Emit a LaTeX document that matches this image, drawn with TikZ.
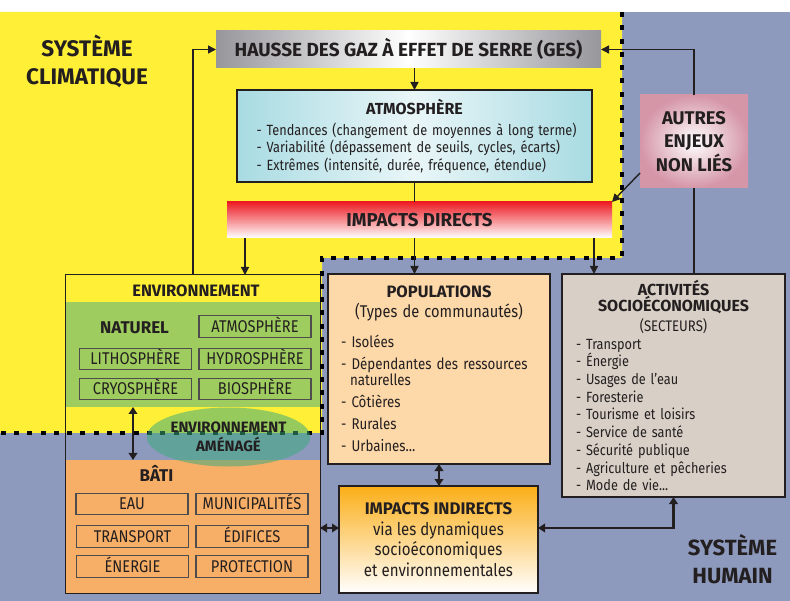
\documentclass[tikz,border=0pt]{standalone}
\usepackage{fontspec}
\setmainfont[FakeStretch=0.86,BoldFeatures={FakeStretch=1.0}]{Fira Sans}
\usetikzlibrary{arrows.meta,positioning,shapes.geometric}
\definecolor{climyellow}{RGB}{255,240,55}
\definecolor{humblue}{RGB}{142,154,189}
\definecolor{ink}{RGB}{35,31,32}
\definecolor{gesgray}{RGB}{150,150,155}
\definecolor{atmoblue}{RGB}{168,219,226}
\definecolor{impred}{RGB}{237,28,36}
\definecolor{impor}{RGB}{251,174,23}
\definecolor{autpink}{RGB}{213,150,168}
\definecolor{natgreen}{RGB}{159,204,94}
\definecolor{batorange}{RGB}{247,174,102}
\definecolor{poppeach}{RGB}{253,216,168}
\definecolor{actbeige}{RGB}{216,208,198}
\definecolor{amgreen}{RGB}{58,170,125}
\tikzstyle{plainbox}=[inner sep=0pt,outer sep=0pt,text=ink]
\tikzstyle{framebox}=[plainbox,draw=ink,line width=2pt]
\tikzstyle{lbl}=[plainbox,text depth=0pt]
\tikzstyle{subbox}=[plainbox,draw=ink!80,line width=1.1pt,minimum width=112pt,minimum height=21.5pt,text height=11.7pt,text depth=0pt,font=\fontsize{17}{18}\selectfont]
\tikzstyle{arr}=[-{Triangle[length=8pt,width=8pt]},line width=1.4pt,draw=ink]
\tikzstyle{darr}=[{Triangle[length=7pt,width=8.5pt]}-{Triangle[length=7pt,width=8.5pt]},line width=2.2pt,draw=ink]
\tikzstyle{lnk}=[line width=1.4pt,draw=ink]
\tikzstyle{sysdash}=[line width=4.5pt,dash pattern=on 5pt off 8.3pt,draw=black]
\newcommand\hd[1]{\fontsize{#1}{#1}\selectfont\bfseries}

\begin{document}
\begin{tikzpicture}[x=1pt,y=-1pt]
\useasboundingbox (0,0) rectangle (790,601);
\fill[humblue] (0,12) rectangle (790,601);
\fill[climyellow] (0,12) -- (622,12) -- (622,258) -- (322,258) -- (322,433) -- (0,433) -- cycle;
\node[plainbox,fill=natgreen,minimum width=255pt,minimum height=105pt] (nat) at (192.5,354.5) {};
\node[plainbox,fill=batorange,minimum width=255pt,minimum height=133pt] (bati) at (192.5,526.5) {};
\node[plainbox,draw=ink,line width=1pt,minimum width=255pt,minimum height=318pt] (env) at (192.5,434) {};
\draw[sysdash] (622,12) -- (622,258) -- (322,258) -- (322,433) -- (0,433);
\node[plainbox,ellipse,fill=amgreen,fill opacity=0.53,text opacity=1,minimum width=161pt,minimum height=59pt,align=center,font=\fontsize{15}{19}\selectfont\bfseries] (amen) at (228.5,437) {ENVIRONNEMENT\\AMÉNAGÉ};
\node[lbl,text height=11.4pt,font=\hd{16.5}] (envlbl) at (196,291) {ENVIRONNEMENT};
\node[lbl,text height=11.7pt,font=\hd{17}] (natlbl) at (134.5,327.5) {NATUREL};
\node[lbl,text height=11.7pt,font=\hd{17}] (batilbl) at (156.5,476) {BÂTI};
\foreach \n/\x/\y/\t in {atm2/255/326.5/ATMOSPHÈRE, litho/135.5/359/LITHOSPHÈRE, hydro/255/359/HYDROSPHÈRE,
  cryo/135.5/389/CRYOSPHÈRE, bio/255/389/BIOSPHÈRE, eau/132/504/EAU, muni/252/504/MUNICIPALITÉS,
  trans/132.5/536.5/TRANSPORT, edif/252/536.5/ÉDIFICES, ener/132.5/566.5/ÉNERGIE, prot/252/566.5/PROTECTION}
  {\node[subbox] (\n) at (\x,\y) {\t};}
\node[lbl,align=center,font=\fontsize{22.5}{28}\selectfont\bfseries] (climat) at (87,60) {SYSTÈME\\CLIMATIQUE};
\node[lbl,align=center,font=\fontsize{22}{28}\selectfont\bfseries] (humain) at (732.5,559) {SYSTÈME\\HUMAIN};
\node[plainbox,left color=gesgray,right color=gesgray,middle color=white,minimum width=385pt,minimum height=37pt,text height=13.1pt,text depth=0pt,font=\hd{19}] (ges) at (408.5,49.5) {HAUSSE DES GAZ À EFFET DE SERRE (GES)};
\node[framebox,left color=atmoblue,right color=atmoblue,middle color=atmoblue!25,minimum width=355pt,minimum height=92pt,text width=316pt,align=left,font=\fontsize{14.8}{17.5}\selectfont] (atmo) at (414.5,136)
  {{\centering\hd{16}ATMOSPHÈRE\par}\vspace{3.5pt}\mbox{- Tendances (changement de moyennes à long terme)}\\\mbox{- Variabilité (dépassement de seuils, cycles, écarts)}\\\mbox{- Extrêmes (intensité, durée, fréquence, étendue)}};
\node[plainbox,top color=impred,bottom color=white,minimum width=385pt,minimum height=36pt,text height=12.9pt,text depth=0pt,font=\hd{18.7}] (impd) at (419.5,220) {IMPACTS DIRECTS};
\node[plainbox,inner color=white,outer color=autpink,minimum width=108pt,minimum height=93pt,align=center,font=\fontsize{18.4}{23.5}\selectfont\bfseries] (autres) at (694,141.5) {AUTRES\\ENJEUX\\NON LIÉS};
\node[framebox,fill=poppeach,minimum width=222pt,minimum height=190pt,text width=196pt,align=left,font=\fontsize{15.5}{16}\selectfont] (pop) at (439,369)
  {{\centering\hd{16.5}POPULATIONS\par}\vspace{4pt}{\centering\fontsize{17}{16}\selectfont(Types de communautés)\par}\vspace{13pt}- Isolées\\[6pt]\mbox{- Dépendantes des ressources}\\\hspace*{9pt}naturelles\\[6pt]- Côtières\\[6pt]- Rurales\\[6pt]- Urbaines...};
\node[framebox,fill=actbeige,minimum width=223pt,minimum height=223pt,text width=195pt,align=left,font=\fontsize{14.8}{17.7}\selectfont] (act) at (673.5,385.5)
  {{\centering\fontsize{16}{16}\selectfont\bfseries ACTIVITÉS\\SOCIOÉCONOMIQUES\par}\vspace{4pt}{\centering\fontsize{15.3}{16}\selectfont(SECTEURS)\par}- Transport\\- Énergie\\- Usages de l’eau\\- Foresterie\\- Tourisme et loisirs\\- Service de santé\\- Sécurité publique\\- Agriculture et pêcheries\\- Mode de vie...};
\node[framebox,line width=2.5pt,top color=impor,bottom color=white,minimum width=199pt,minimum height=107pt,align=center,font=\fontsize{17.5}{20.5}\selectfont] (impi) at (438.5,539.5)
  {{\hd{16.8}IMPACTS INDIRECTS}\\via les dynamiques\\socioéconomiques\\et environnementales};
\draw[arr] (env.north west) ++(128,0) |- (ges.west);
\draw[arr] (atmo.north |- ges.south) -- (atmo.north);
\draw[lnk] (atmo.south) -- (atmo.south |- impd.north);
\draw[lnk] (autres.south |- act.north) -- (autres.south);
\draw[arr] (autres.north) |- (ges.east);
\draw[arr] ([yshift=15pt]autres.south west) -- (impd.north east);
\draw[arr] ([xshift=18pt]impd.south west) -- ([xshift=18pt]impd.south west |- env.north);
\draw[arr] (impd.south -| atmo.south) -- (pop.north -| atmo.south);
\draw[arr] ([xshift=-18pt]impd.south east) -- ([xshift=-18pt]impd.south east |- act.north);
\draw[darr] ([xshift=68pt]nat.south west) -- ([xshift=68pt]bati.north west);
\draw[darr] (pop.south) -- (pop.south |- impi.north);
\coordinate (iw) at ([yshift=11.5pt]impi.west);
\draw[darr] (iw) -- (iw -| env.east);
\draw[darr] (iw -| impi.east) -| (act.south);
\end{tikzpicture}
\end{document}
